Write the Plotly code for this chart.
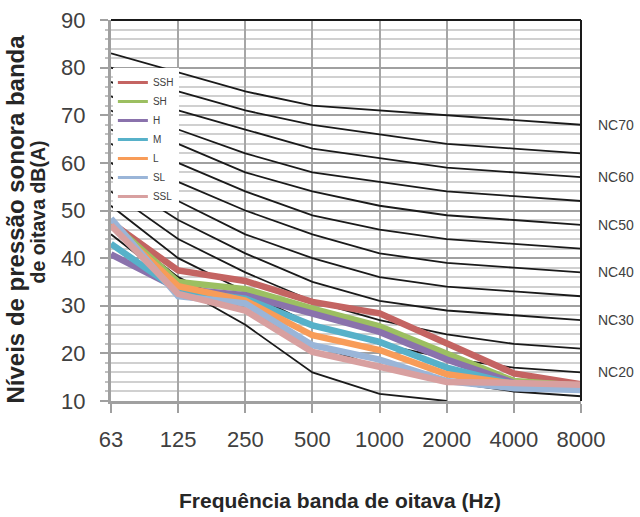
import plotly.graph_objects as go

freqs = ["63", "125", "250", "500", "1000", "2000", "4000", "8000"]

series_names = ["SSH", "SH", "H", "M", "L", "SL", "SSL"]
ssh = [47.5, 37.4, 35.2, 30.8, 28.4, 22.1, 15.8, 13.5]
sh = [47.5, 35.0, 33.5, 29.4, 25.7, 19.8, 14.2, 13.2]
h = [40.8, 33.6, 32.2, 28.4, 24.5, 18.7, 13.8, 13.0]
m = [43.0, 33.2, 31.5, 25.9, 22.4, 17.0, 13.5, 12.8]
l_ = [47.2, 34.1, 31.1, 23.8, 20.7, 15.6, 13.6, 13.0]
sl = [48.3, 32.0, 30.5, 21.7, 18.7, 14.2, 12.7, 12.3]
ssl = [46.9, 32.5, 29.0, 20.3, 17.2, 14.0, 13.8, 13.4]
series_values = [ssh, sh, h, m, l_, sl, ssl]
series_colors = ["#C46462", "#9CBF61", "#8A72AC", "#57B1C9", "#F89C58", "#9AB5D8", "#D8A0A0"]

nc_names = ["NC70", "NC65", "NC60", "NC55", "NC50", "NC45", "NC40",
            "NC35", "NC30", "NC25", "NC20", "NC15", "NC10"]
nc70 = [83, 79, 75, 72, 71, 70, 69, 68]
nc65 = [80, 75, 71, 68, 66, 64, 63, 62]
nc60 = [77, 71, 67, 63, 61, 59, 58, 57]
nc55 = [74, 67, 62, 58, 56, 54, 53, 52]
nc50 = [71, 64, 58, 54, 51, 49, 48, 47]
nc45 = [67, 60, 54, 49, 46, 44, 43, 42]
nc40 = [64, 56, 50, 45, 41, 39, 38, 37]
nc35 = [60, 52, 45, 40, 36, 34, 33, 32]
nc30 = [57, 48, 41, 35, 31, 29, 28, 27]
nc25 = [54, 44, 37, 31, 27, 24, 22, 21]
nc20 = [51, 40, 33, 26, 22, 19, 17, 16]
nc15 = [47, 36, 29, 22, 17, 14, 12, 11]
nc10 = [45, 34, 26, 16, 11.5, 10, None, None]
nc_values = [nc70, nc65, nc60, nc55, nc50, nc45, nc40, nc35, nc30, nc25, nc20, nc15, nc10]
labelled_nc = ["NC70", "NC60", "NC50", "NC40", "NC30", "NC20"]

x_title = "Frequência banda de oitava (Hz)"
y_title_1 = "Níveis de pressão sonora banda"
y_title_2 = "de oitava dB(A)"

FONT = "Liberation Sans, Arial, sans-serif"
TXT = "#404040"
TITLE = "#262626"

fig = go.Figure()

for name, vals in zip(nc_names, nc_values):
    fig.add_trace(go.Scatter(x=freqs, y=vals, mode="lines", name=name,
                             line=dict(color="#1A1A1A", width=1.8),
                             showlegend=False, hoverinfo="skip"))

for name, vals, c in zip(series_names, series_values, series_colors):
    fig.add_trace(go.Scatter(x=freqs, y=vals, mode="lines", name=name,
                             line=dict(color=c, width=6.5), showlegend=False))

for name, c in zip(series_names, series_colors):
    fig.add_trace(go.Scatter(x=[None], y=[None], mode="lines", name=name,
                             line=dict(color=c, width=3), showlegend=True))

for name, vals in zip(nc_names, nc_values):
    if name in labelled_nc:
        fig.add_annotation(x=1, y=vals[-1], xref="paper", yref="y",
                           text=name, showarrow=False, xanchor="left",
                           xshift=15, font=dict(family=FONT, size=14, color=TXT))

# axis titles
fig.add_annotation(x=0, y=0.5, xref="paper", yref="paper", textangle=-90,
                   text=f"<b>{y_title_1}</b>", showarrow=False,
                   xanchor="center", yanchor="middle", xshift=-96, yshift=-9,
                   font=dict(family=FONT, size=24, color=TITLE))
fig.add_annotation(x=0, y=0.5, xref="paper", yref="paper", textangle=-90,
                   text=f"<b>{y_title_2}</b>", showarrow=False,
                   xanchor="center", yanchor="middle", xshift=-74, yshift=-2,
                   font=dict(family=FONT, size=19.5, color=TITLE))
fig.add_annotation(x=0.5, y=0, xref="paper", yref="paper",
                   text=f"<b>{x_title}</b>", showarrow=False,
                   xanchor="center", yanchor="middle", xshift=-6, yshift=-99,
                   font=dict(family=FONT, size=21, color=TITLE))

fig.add_shape(type="line", xref="x domain", yref="y domain", x0=0, x1=1, y0=1, y1=1,
              line=dict(color="#1A1A1A", width=2), layer="above")
fig.add_shape(type="line", xref="x domain", yref="y domain", x0=1, x1=1, y0=0, y1=1,
              line=dict(color="#1A1A1A", width=2), layer="above")

fig.update_layout(
    width=640, height=517,
    margin=dict(l=111, r=59, t=20, b=116, autoexpand=False),
    paper_bgcolor="white", plot_bgcolor="white",
    font=dict(family=FONT, color=TXT),
    legend=dict(x=0.004, y=0.874, xanchor="left", yanchor="top",
                bgcolor="white", font=dict(family=FONT, size=10, color=TXT),
                itemwidth=30, tracegroupgap=0),
    xaxis=dict(type="category", range=[0, 7], automargin=False,
               showgrid=True, gridcolor="#A6A6A6", gridwidth=2,
               showline=True, linecolor="#A0A0A0", linewidth=3,
               ticks="outside", ticklen=9, tickwidth=2, tickcolor="#A0A0A0",
               ticklabelstandoff=8, ticklabeloverflow="allow",
               tickfont=dict(family=FONT, size=22, color=TXT)),
    yaxis=dict(range=[10, 90], dtick=10, zeroline=False, automargin=False,
               showgrid=True, gridcolor="#A0A0A0", gridwidth=2,
               minor=dict(dtick=2, showgrid=True, gridcolor="#D0D0D0", gridwidth=2,
                          ticks="outside", ticklen=3, tickcolor="#C0C0C0"),
               showline=True, linecolor="#A0A0A0", linewidth=3,
               ticks="outside", ticklen=8, tickwidth=2, tickcolor="#A0A0A0",
               ticklabelstandoff=10, ticklabeloverflow="allow",
               tickfont=dict(family=FONT, size=22, color=TXT)),
)

fig.write_html("out.html", config={"displayModeBar": False},
               post_script="document.body.style.margin='0px';")
